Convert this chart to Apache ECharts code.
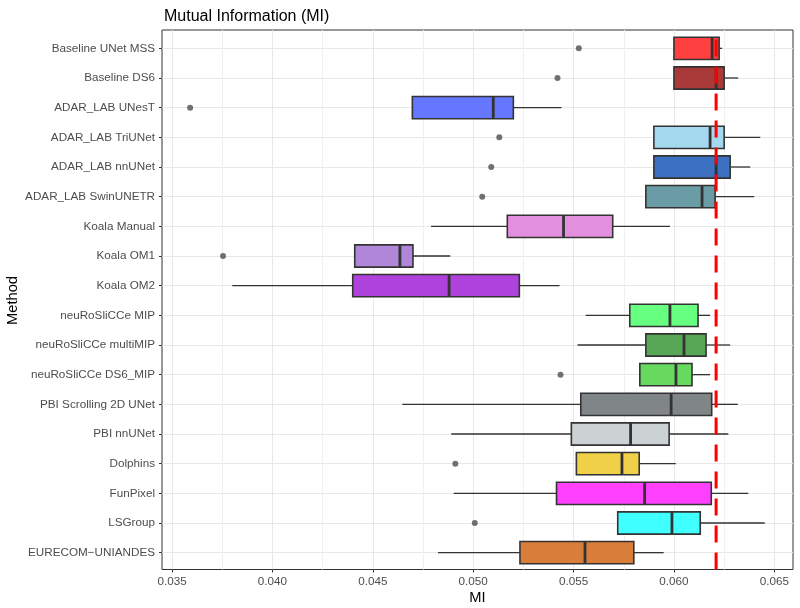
<!DOCTYPE html>
<html>
<head>
<meta charset="utf-8">
<script src="https://cdn.jsdelivr.net/npm/echarts@6/dist/echarts.min.js"></script>
<style>html,body{margin:0;padding:0;background:#fff}#c{width:800px;height:608px}</style>
</head>
<body>
<div id="c"></div>
<script>
const methods = ["Baseline UNet MSS","Baseline DS6","ADAR_LAB UNesT","ADAR_LAB TriUNet","ADAR_LAB nnUNet","ADAR_LAB SwinUNETR","Koala Manual","Koala OM1","Koala OM2","neuRoSliCCe MIP","neuRoSliCCe multiMIP","neuRoSliCCe DS6_MIP","PBI Scrolling 2D UNet","PBI nnUNet","Dolphins","FunPixel","LSGroup","EURECOM\u2212UNIANDES"];
const whiskerLow = [0.0600,0.0600,0.04697,0.0590,0.0590,0.0586,0.0479,0.0441,0.0380,0.0556,0.0552,0.0583,0.04647,0.04891,0.05514,0.04903,0.0572,0.04825];
const q1 =         [0.0600,0.0600,0.04697,0.0590,0.0590,0.0586,0.0517,0.0441,0.0440,0.0578,0.0586,0.0583,0.05536,0.05489,0.05514,0.05415,0.0572,0.05233];
const median =     [0.0619,0.0621,0.0510,0.0618,0.0621,0.0614,0.0545,0.04635,0.0488,0.0598,0.0605,0.0601,0.05986,0.05784,0.05741,0.05854,0.0599,0.05557];
const q3 =         [0.06225,0.0625,0.0520,0.0625,0.0628,0.06205,0.05695,0.0470,0.0523,0.0612,0.0616,0.0609,0.06188,0.05976,0.05827,0.06186,0.06131,0.0580];
const whiskerHigh =[0.0624,0.0632,0.0544,0.0643,0.0638,0.0640,0.0598,0.04886,0.0543,0.0618,0.0628,0.0618,0.06318,0.06271,0.06009,0.0637,0.06452,0.05949];
const outlierMethod = ["Baseline UNet MSS","Baseline DS6","ADAR_LAB UNesT","ADAR_LAB TriUNet","ADAR_LAB nnUNet","ADAR_LAB SwinUNETR","Koala OM1","neuRoSliCCe DS6_MIP","Dolphins","LSGroup"];
const outlierValue  = [0.05526,0.0542,0.0359,0.0513,0.0509,0.05045,0.03754,0.05435,0.04911,0.05008];
const boxColors = ["#FF4040","#A83A3A","#6677FF","#A4D8EE","#3C70C0","#6A9CA6","#E290DD","#B087D8","#AF42DD","#66FF7F","#57A757","#66D95E","#808687","#CCD1D3","#F0D048","#FF40FF","#40FFFF","#D97D3A"];
const majorTicks = [0.035,0.040,0.045,0.050,0.055,0.060,0.065];
const minorTicks = [0.0375,0.0425,0.0475,0.0525,0.0575,0.0625];
const referenceLine = [0.0621];
const xMin = 0.03450, xMax = 0.06593;

const boxData = methods.map((m,i)=>[i, whiskerLow[i], q1[i], median[i], q3[i], whiskerHigh[i]]);
const outlierData = outlierMethod.map((m,i)=>[outlierValue[i], methods.indexOf(m)]);

function renderBox(params, api){
  const cat = api.value(0);
  const y = api.coord([api.value(2), cat])[1];
  const band = api.size([0,1])[1];
  const h = band*0.75;
  const xLo = api.coord([api.value(1), cat])[0];
  const xQ1 = api.coord([api.value(2), cat])[0];
  const xMd = api.coord([api.value(3), cat])[0];
  const xQ3 = api.coord([api.value(4), cat])[0];
  const xHi = api.coord([api.value(5), cat])[0];
  const stroke = '#333333';
  return {type:'group', children:[
    {type:'line', shape:{x1:xLo,y1:y,x2:xQ1,y2:y}, style:{stroke:stroke,lineWidth:1.3}},
    {type:'line', shape:{x1:xQ3,y1:y,x2:xHi,y2:y}, style:{stroke:stroke,lineWidth:1.3}},
    {type:'rect', shape:{x:xQ1,y:y-h/2,width:xQ3-xQ1,height:h}, style:{fill:boxColors[params.dataIndex],stroke:stroke,lineWidth:1.6}},
    {type:'line', shape:{x1:xMd,y1:y-h/2,x2:xMd,y2:y+h/2}, style:{stroke:stroke,lineWidth:2.8}}
  ]};
}
function renderRef(params, api){
  const v = api.value(0);
  const p0 = api.coord([v, 0]);
  const p1 = api.coord([v, 1]);
  return {type:'line', shape:{x1:p0[0],y1:p0[1],x2:p1[0],y2:p1[1]},
    style:{stroke:'#FF0000', lineWidth:3, lineDash:[17,10]}};
}

const font = "'Liberation Sans', Arial, sans-serif";
const chart = echarts.init(document.getElementById('c'), null, {renderer:'canvas'});
chart.setOption({
  backgroundColor:'#ffffff',
  animation:false,
  title:{text:'Mutual Information (MI)', left:159, top:4, textStyle:{fontFamily:font,fontSize:16,fontWeight:'normal',color:'#000'}},
  grid:[
    {left:162, right:7, top:33.5, height:534, show:false, containLabel:false, outerBoundsMode:'none'},
    {left:162, right:7, top:30, height:539.5, show:true, borderColor:'#333333', borderWidth:1, backgroundColor:'transparent', containLabel:false, outerBoundsMode:'none'}
  ],
  xAxis:[
    {gridIndex:0, type:'value', min:xMin, max:xMax, show:false},
    {gridIndex:1, type:'value', min:xMin, max:xMax, position:'bottom',
      name:'MI', nameLocation:'middle', nameGap:21, nameMoveOverlap:false, nameTextStyle:{fontFamily:font,fontSize:14.7,color:'#000'},
      axisLine:{show:false},
      axisTick:{show:true, length:3, customValues:majorTicks, lineStyle:{color:'#333333'}},
      axisLabel:{customValues:majorTicks, formatter:v=>v.toFixed(3), fontFamily:font, fontSize:11.7, color:'#4D4D4D', margin:6},
      splitLine:{show:true, lineStyle:{color:'#E8E8E8', width:1}}
    },
    {gridIndex:1, type:'value', min:xMin, max:xMax, position:'bottom',
      axisLine:{show:false}, axisLabel:{show:false},
      axisTick:{show:false, customValues:minorTicks},
      splitLine:{show:true, lineStyle:{color:'#F0F0F0', width:1}}
    }
  ],
  yAxis:[
    {gridIndex:0, type:'category', data:methods, inverse:true,
      name:'Method', nameLocation:'middle', nameRotate:90, nameGap:142, nameMoveOverlap:false, nameTextStyle:{fontFamily:font,fontSize:14.7,color:'#000'},
      axisLine:{show:false},
      axisTick:{show:true, alignWithLabel:true, length:3, lineStyle:{color:'#333333'}},
      axisLabel:{fontFamily:font, fontSize:11.7, color:'#4D4D4D', margin:7},
      splitLine:{show:true, alignWithLabel:true, lineStyle:{color:'#E8E8E8', width:1}}
    },
    {gridIndex:1, type:'value', min:0, max:1, show:false}
  ],
  series:[
    {type:'custom', xAxisIndex:0, yAxisIndex:0, renderItem:renderBox, data:boxData, encode:{x:[1,2,3,4,5], y:0}, z:3},
    {type:'scatter', xAxisIndex:0, yAxisIndex:0, data:outlierData, symbol:'circle', symbolSize:6, itemStyle:{color:'#4D4D4D'}, z:3},
    {type:'custom', xAxisIndex:1, yAxisIndex:1, renderItem:renderRef, data:referenceLine.map(v=>[v]), encode:{x:0}, z:10, silent:true}
  ]
});
</script>
</body>
</html>
